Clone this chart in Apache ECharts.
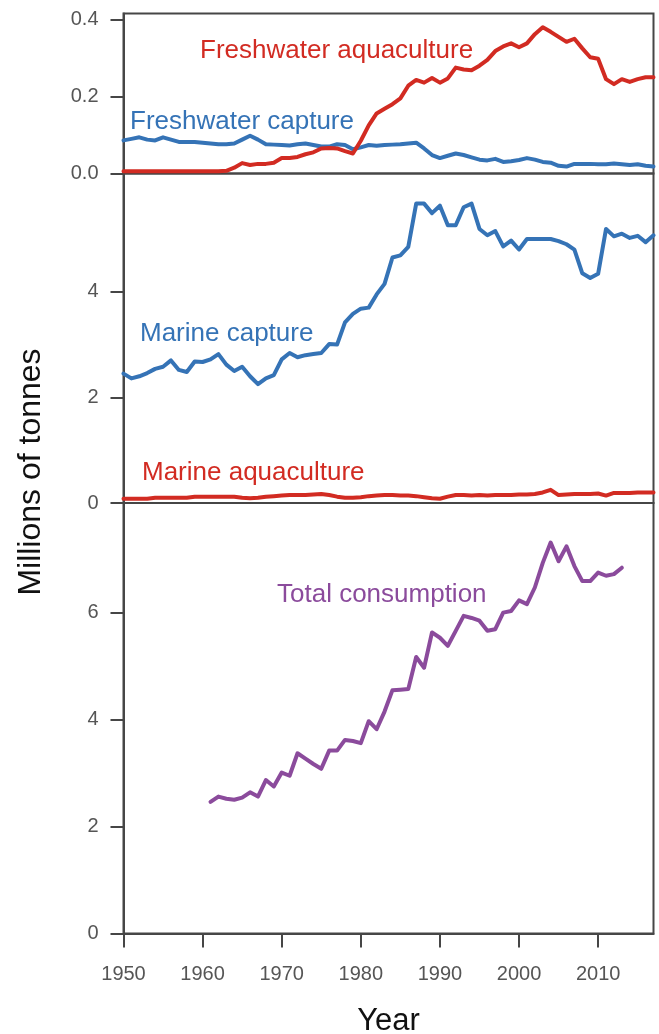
<!DOCTYPE html>
<html>
<head>
<meta charset="utf-8">
<script src="https://cdn.jsdelivr.net/npm/echarts@6/dist/echarts.min.js"></script>
<style>
html,body{margin:0;padding:0;background:#fff;}
#chart{width:659px;height:1034px;}
</style>
</head>
<body>
<div id="chart"></div>
<script>
// ---- data (millions of tonnes) ----
const startYear = 1950;
const freshwaterAquaculture = [
  0.006,0.006,0.006,0.006,0.006,0.006,0.006,0.006,0.006,0.006,
  0.006,0.006,0.006,0.007,0.015,0.027,0.022,0.025,0.025,0.028,
  0.040,0.040,0.043,0.050,0.055,0.065,0.066,0.065,0.058,0.052,
  0.085,0.125,0.156,0.168,0.180,0.195,0.228,0.243,0.236,0.248,
  0.236,0.247,0.275,0.270,0.268,0.280,0.295,0.318,0.330,0.338,
  0.328,0.338,0.362,0.380,0.368,0.355,0.342,0.350,0.325,0.302,
  0.298,0.245,0.232,0.245,0.238,0.245,0.250,0.250
];
const freshwaterCapture = [
  0.086,0.090,0.094,0.088,0.086,0.094,0.088,0.082,0.082,0.082,
  0.080,0.078,0.076,0.076,0.078,0.088,0.098,0.088,0.076,0.075,
  0.074,0.073,0.076,0.078,0.074,0.070,0.070,0.076,0.074,0.063,
  0.068,0.074,0.072,0.074,0.075,0.076,0.078,0.080,0.065,0.048,
  0.040,0.046,0.052,0.048,0.042,0.036,0.034,0.038,0.030,0.032,
  0.035,0.040,0.036,0.030,0.028,0.020,0.018,0.025,0.025,0.025,
  0.024,0.024,0.026,0.024,0.022,0.024,0.020,0.018
];
const marineCapture = [
  2.45,2.36,2.40,2.46,2.54,2.58,2.70,2.52,2.48,2.68,
  2.67,2.72,2.82,2.62,2.50,2.58,2.40,2.25,2.36,2.42,
  2.72,2.84,2.76,2.80,2.82,2.84,3.01,3.00,3.42,3.58,
  3.68,3.70,3.95,4.15,4.65,4.69,4.85,5.67,5.67,5.49,
  5.63,5.26,5.26,5.60,5.67,5.19,5.07,5.15,4.86,4.97,
  4.80,5.00,5.00,5.00,5.00,4.96,4.90,4.80,4.35,4.26,
  4.34,5.19,5.05,5.10,5.02,5.06,4.94,5.07
];
const marineAquaculture = [
  0.08,0.08,0.08,0.08,0.10,0.10,0.10,0.10,0.10,0.12,
  0.12,0.12,0.12,0.12,0.12,0.10,0.09,0.10,0.12,0.13,
  0.14,0.15,0.15,0.15,0.16,0.17,0.15,0.12,0.10,0.10,
  0.11,0.13,0.14,0.15,0.15,0.14,0.14,0.13,0.11,0.09,
  0.08,0.12,0.15,0.15,0.14,0.15,0.14,0.15,0.15,0.15,
  0.16,0.16,0.17,0.20,0.25,0.15,0.16,0.17,0.17,0.17,
  0.18,0.14,0.19,0.19,0.19,0.20,0.20,0.20
];
const consumptionStart = 1961;
const totalConsumption = [
  2.46,2.56,2.52,2.50,2.54,2.64,2.56,2.87,2.75,3.01,
  2.95,3.37,3.27,3.17,3.08,3.42,3.42,3.62,3.60,3.56,
  3.97,3.82,4.15,4.55,4.56,4.57,5.17,4.97,5.63,5.53,
  5.38,5.66,5.94,5.90,5.85,5.66,5.69,6.00,6.03,6.23,
  6.16,6.47,6.93,7.31,6.96,7.24,6.87,6.59,6.59,6.75,
  6.69,6.72,6.84
];
const yearTicks = [1950,1960,1970,1980,1990,2000,2010];
const ticksTop = [0, 0.2, 0.4];
const ticksMid = [0, 2, 4];
const ticksBottom = [0, 2, 4, 6];
const labels = {
  fwAqua: 'Freshwater aquaculture',
  fwCap: 'Freshwater capture',
  mCap: 'Marine capture',
  mAqua: 'Marine aquaculture',
  total: 'Total consumption',
  yTitle: 'Millions of tonnes',
  xTitle: 'Year'
};

// ---- build ----
const pairs = (start, arr) => arr.map((v, i) => [start + i, v]);
const RED = '#d22b22', BLUE = '#3573b6', PURPLE = '#8b4b9c';
const AX = '#464646', TXT = '#555555';
const FONT = "'Liberation Sans', Arial, Helvetica, sans-serif";
const L = 123.5, W = 530;
const grids = [
  {left: L, width: W, top: 13.5, height: 160},
  {left: L, width: W, top: 173.5, height: 329.5},
  {left: L, width: W, top: 503, height: 430.5}
].map(g => Object.assign(g, {show: true, borderColor: AX, borderWidth: 2, containLabel: false, outerBoundsMode: 'none'}));

function xAx(i, visible) {
  return {
    type: 'value', gridIndex: i, min: 1950, max: 2017, interval: 10,
    axisLine: {show: visible, onZero: false, lineStyle: {color: AX, width: 2}},
    axisTick: {show: visible, length: 14, customValues: yearTicks, lineStyle: {color: AX, width: 2}},
    axisLabel: {show: visible, customValues: yearTicks, margin: 31, fontSize: 20, color: TXT, fontFamily: FONT,
      formatter: v => String(v)},
    splitLine: {show: false},
    name: visible ? labels.xTitle : '',
    nameLocation: 'middle', nameGap: 72,
    nameTextStyle: {fontSize: 31, color: '#111', fontFamily: FONT}
  };
}
function yAx(i, max, ticks, fmt) {
  return {
    type: 'value', gridIndex: i, min: 0, max: max,
    axisLine: {show: true, lineStyle: {color: AX, width: 2}},
    axisTick: {show: true, length: 13, customValues: ticks, lineStyle: {color: AX, width: 2}},
    axisLabel: {customValues: ticks, margin: 25, fontSize: 20, color: TXT, fontFamily: FONT, formatter: fmt},
    splitLine: {show: false}
  };
}
function line(xi, yi, data, color) {
  return {
    type: 'line', xAxisIndex: xi, yAxisIndex: yi, data: data, showSymbol: false, symbol: 'none',
    clip: false, lineStyle: {color: color, width: 4, cap: 'round', join: 'round'}, silent: true
  };
}
function txt(x, y, text, color, size) {
  return {type: 'text', x: x, y: y, silent: true,
    style: {text: text, fill: color, fontSize: size || 26, fontFamily: FONT, textAlign: 'left', textVerticalAlign: 'middle'}};
}

const option = {
  animation: false,
  backgroundColor: '#fff',
  grid: grids,
  xAxis: [xAx(0, false), xAx(1, false), xAx(2, true)],
  yAxis: [
    yAx(0, 0.4156, ticksTop, v => v.toFixed(1)),
    yAx(1, 6.24, ticksMid, v => String(v)),
    yAx(2, 8.05, ticksBottom, v => String(v))
  ],
  series: [
    line(0, 0, pairs(startYear, freshwaterCapture), BLUE),
    line(0, 0, pairs(startYear, freshwaterAquaculture), RED),
    line(1, 1, pairs(startYear, marineCapture), BLUE),
    line(1, 1, pairs(startYear, marineAquaculture), RED),
    line(2, 2, pairs(consumptionStart, totalConsumption), PURPLE)
  ],
  graphic: [
    txt(200, 51, labels.fwAqua, RED),
    txt(130, 122, labels.fwCap, BLUE),
    txt(140, 334, labels.mCap, BLUE),
    txt(142, 473, labels.mAqua, RED),
    txt(277, 595, labels.total, PURPLE),
    {type: 'text', x: 31, y: 472, rotation: Math.PI / 2, silent: true,
      style: {text: labels.yTitle, fill: '#111', fontSize: 32, fontFamily: FONT, textAlign: 'center', textVerticalAlign: 'middle'}}
  ]
};
const chart = echarts.init(document.getElementById('chart'), null, {renderer: 'canvas'});
chart.setOption(option);
</script>
</body>
</html>
